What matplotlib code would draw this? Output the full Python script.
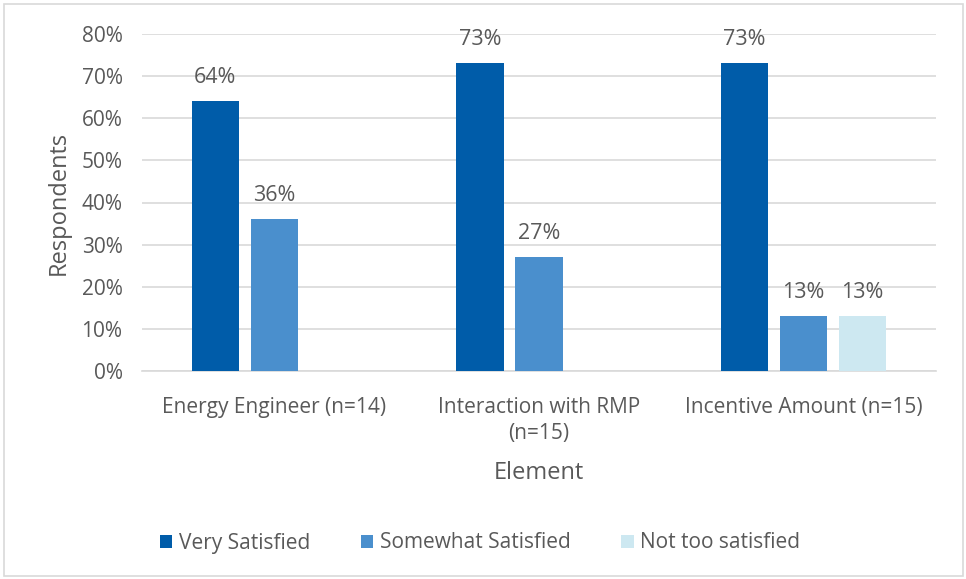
import numpy as np
import matplotlib.pyplot as plt
from matplotlib.patches import Rectangle

categories = ["Energy Engineer (n=14)", "Interaction with RMP\n(n=15)", "Incentive Amount (n=15)"]
series = ["Very Satisfied", "Somewhat Satisfied", "Not too satisfied"]
very = [64, 73, 73]
somewhat = [36, 27, 13]
not_too = [0, 0, 13]
colors = ["#005CA9", "#4A8FCD", "#CDE8F1"]

plt.rcParams['font.family'] = ['Open Sans', 'DejaVu Sans']
txt = "#595959"
grid = "#D9D9D9"

fig = plt.figure(figsize=(9.66, 5.79), dpi=100)
ax = fig.add_axes([142 / 966, 1 - 371 / 579, 794 / 966, 337 / 579])

x = np.arange(len(categories))
width = 0.178
step = 0.223
for i, (name, vals) in enumerate(zip(series, [very, somewhat, not_too])):
    pos = x + (i - 1) * step
    bars = ax.bar(pos, vals, width, color=colors[i], label=name, zorder=3)
    for b, v in zip(bars, vals):
        if v > 0:
            ax.text(b.get_x() + b.get_width() / 2, v + 5.7, f"{v}%", ha="center",
                    va="center", fontsize=15.5, color=txt)

ax.set_xlim(-0.5, 2.5)
ax.set_ylim(0, 80)
ax.set_yticks(range(0, 81, 10))
ax.set_yticklabels([f"{t}%" for t in range(0, 81, 10)])
ax.set_xticks(x)
ax.set_xticklabels(categories, linespacing=1.3)
ax.tick_params(length=0, labelsize=15, labelcolor=txt)
ax.tick_params(axis="y", pad=14)
ax.tick_params(axis="x", pad=19)
ax.grid(axis="y", color=grid, linewidth=1.2, zorder=0)
for s in ["top", "right", "left"]:
    ax.spines[s].set_visible(False)
ax.spines["bottom"].set_color(grid)
ax.spines["bottom"].set_linewidth(1.2)

ax.set_ylabel("Respondents", fontsize=17, color=txt, labelpad=8)
ax.set_xlabel("Element", fontsize=17, color=txt, labelpad=12)

fig.legend(loc="center", bbox_to_anchor=(480 / 966, 1 - 543 / 579), ncol=3,
           frameon=False, fontsize=15, labelcolor=txt, handlelength=0.6,
           handleheight=0.6, handletextpad=0.3, columnspacing=2.45)

fig.patches.append(Rectangle((4 / 966, 3 / 579), 959 / 966, 572 / 579,
                             transform=fig.transFigure, fill=False,
                             edgecolor="#D9D9D9", linewidth=1.2))

fig.savefig("out.png", dpi=100)
